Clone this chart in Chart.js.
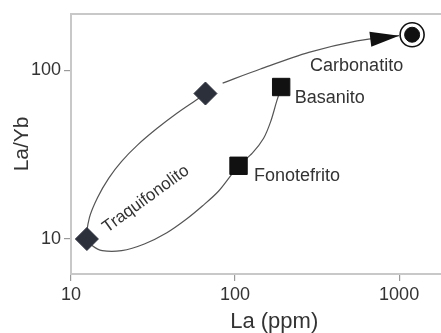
<!DOCTYPE html>
<html>
<head>
<meta charset="utf-8">
<script src="https://cdn.jsdelivr.net/npm/chart.js@4/dist/chart.umd.min.js"></script>
<style>
  html, body { margin: 0; padding: 0; background: #fff; overflow: hidden; }
  #wrap { width: 441px; height: 333px; overflow: hidden; }
</style>
</head>
<body>
<div id="wrap"><canvas id="laChart" width="491" height="333"></canvas></div>
<script>
// samples (La ppm vs La/Yb)
const traqLa = [12.5, 66];
const traqLaYb = [10, 73];
const tefLa = [105, 191];          // Fonotefrito, Basanito
const tefLaYb = [27.2, 79.8];
const carbLa = [1200];
const carbLaYb = [163];
const rockNames = ["Traquifonolito", "Fonotefrito", "Basanito", "Carbonatito"];

// evolution path: upper diamond -> lower diamond -> Fonotefrito -> Basanito
const pathLa = [66, 57.7, 44, 33.5, 25.5, 20.35, 17, 14.5, 12.95, 12.5,
  13.5, 15.5, 20.35, 28, 38.4, 50.4, 63.2, 79.2, 105,
  127.4, 149.3, 164.8, 178.9, 191];
const pathLaYb = [73, 66.6, 55.6, 45.4, 36.2, 28.9, 23, 17.6, 13.4, 10,
  9.13, 8.53, 8.53, 9.35, 10.9, 13.1, 15.7, 19.2, 27.2,
  32.3, 39.6, 49.7, 65.1, 79.8];

// arrow towards carbonatite
const arrowLa = [84, 142.8, 281.6, 555, 1000];
const arrowLaYb = [84.2, 102, 128, 150, 161];

const xTicks = [10, 100, 1000];
const yTicks = [10, 100];

const pts = (xs, ys) => xs.map((v, i) => ({ x: v, y: ys[i] }));
const font = "'Liberation Sans', Arial, Helvetica, sans-serif";
const txt = "#333";

const annotate = {
  id: "annotate",
  afterDatasetsDraw(chart) {
    const { ctx } = chart;
    const { x, y } = chart.scales;

    // arrowhead
    const ap = chart.getDatasetMeta(1).data;
    const tip = ap[ap.length - 1];
    const prev = ap[ap.length - 2];
    const ang = Math.atan2(tip.y - prev.y, tip.x - prev.x);
    ctx.save();
    ctx.translate(tip.x, tip.y);
    ctx.rotate(ang);
    ctx.beginPath();
    ctx.moveTo(0, 0);
    ctx.lineTo(-29, -7.5);
    ctx.lineTo(-29, 7.5);
    ctx.closePath();
    ctx.fillStyle = "#111";
    ctx.fill();
    ctx.restore();

    // rock labels
    const at = (la, lyb) => [x.getPixelForValue(la), y.getPixelForValue(lyb)];
    ctx.save();
    ctx.fillStyle = txt;
    ctx.font = "18px " + font;
    ctx.textBaseline = "alphabetic";

    let [px, py] = at(tefLa[0], tefLaYb[0]);
    ctx.textAlign = "left";
    ctx.fillText(rockNames[1], px + 15.5, py + 15.7);

    [px, py] = at(tefLa[1], tefLaYb[1]);
    ctx.fillText(rockNames[2], px + 13.5, py + 15.7);

    [px, py] = at(carbLa[0], carbLaYb[0]);
    ctx.textAlign = "center";
    ctx.fillText(rockNames[3], px - 55.5, py + 36);

    [px, py] = at(traqLa[0], traqLaYb[0]);
    ctx.translate(px + 59, py - 40);
    ctx.rotate(-36 * Math.PI / 180);
    ctx.font = "17px " + font;
    ctx.textBaseline = "middle";
    ctx.fillText(rockNames[0], 0, 0);
    ctx.restore();
  }
};

new Chart(document.getElementById("laChart"), {
  type: "scatter",
  data: {
    datasets: [
      {
        data: pts(pathLa, pathLaYb),
        showLine: true,
        borderColor: "#555",
        borderWidth: 1.2,
        pointRadius: 0,
        tension: 0.3,
        order: 5,
      },
      {
        data: pts(arrowLa, arrowLaYb),
        showLine: true,
        borderColor: "#555",
        borderWidth: 1.2,
        pointRadius: 0,
        tension: 0.3,
        order: 6,
      },
      {
        data: pts(traqLa, traqLaYb),
        pointStyle: "rectRot",
        pointRadius: 11.5,
        backgroundColor: "#2c303b",
        borderColor: "#2c303b",
        borderWidth: 1,
        order: 2,
      },
      {
        data: pts(tefLa, tefLaYb),
        pointStyle: "rect",
        pointRadius: 12.3,
        backgroundColor: "#111",
        borderColor: "#111",
        borderWidth: 1,
        order: 2,
      },
      {
        data: pts(carbLa, carbLaYb),
        pointStyle: "circle",
        pointRadius: 12,
        backgroundColor: "#fff",
        borderColor: "#111",
        borderWidth: 1.6,
        order: 1,
      },
      {
        data: pts(carbLa, carbLaYb),
        pointStyle: "circle",
        pointRadius: 7.5,
        backgroundColor: "#111",
        borderColor: "#111",
        borderWidth: 1,
        order: 0,
      },
    ],
  },
  options: {
    responsive: false,
    animation: false,
    devicePixelRatio: 1,
    layout: { padding: { top: 11, right: 0, left: 0, bottom: 0 } },
    plugins: {
      legend: { display: false },
      tooltip: { enabled: false },
    },
    scales: {
      x: {
        type: "logarithmic",
        position: "bottom",
        min: 10,
        max: 3000,
        afterBuildTicks: (s) => { s.ticks = xTicks.map((v) => ({ value: v })); },
        afterFit: (s) => { s.height = 59; },
        ticks: {
          autoSkip: false,
          maxRotation: 0,
          padding: 3,
          color: txt,
          font: { family: font, size: 18 },
          callback: (v) => String(v),
        },
        grid: { display: true, drawOnChartArea: false, drawTicks: true, tickLength: 7, color: "#9a9a9a", lineWidth: 1.2 },
        border: { display: true, color: "#c8c8c8", width: 2 },
        title: {
          display: true,
          text: "La (ppm)",
          color: txt,
          font: { family: font, size: 22, lineHeight: 1 },
          padding: { top: 0, bottom: 0 },
        },
      },
      top: {
        type: "linear",
        position: "top",
        afterFit: (s) => { s.height = 0; },
        ticks: { display: false },
        grid: { display: false, drawTicks: false },
        border: { display: true, color: "#c8c8c8", width: 2 },
      },
      y: {
        type: "logarithmic",
        position: "left",
        min: 6.2,
        max: 217,
        afterBuildTicks: (s) => { s.ticks = yTicks.map((v) => ({ value: v })); },
        afterFit: (s) => { s.width = 71; },
        ticks: {
          autoSkip: false,
          padding: 3,
          color: txt,
          font: { family: font, size: 18 },
          callback: (v) => String(v),
        },
        grid: { display: true, drawOnChartArea: false, drawTicks: true, tickLength: 7, color: "#9a9a9a", lineWidth: 1.2 },
        border: { display: true, color: "#c8c8c8", width: 2 },
        title: {
          display: true,
          text: "La/Yb",
          color: txt,
          font: { family: font, size: 21, lineHeight: 1.2 },
          padding: { top: 10, bottom: 0 },
        },
      },
    },
  },
  plugins: [annotate],
});
</script>
</body>
</html>
